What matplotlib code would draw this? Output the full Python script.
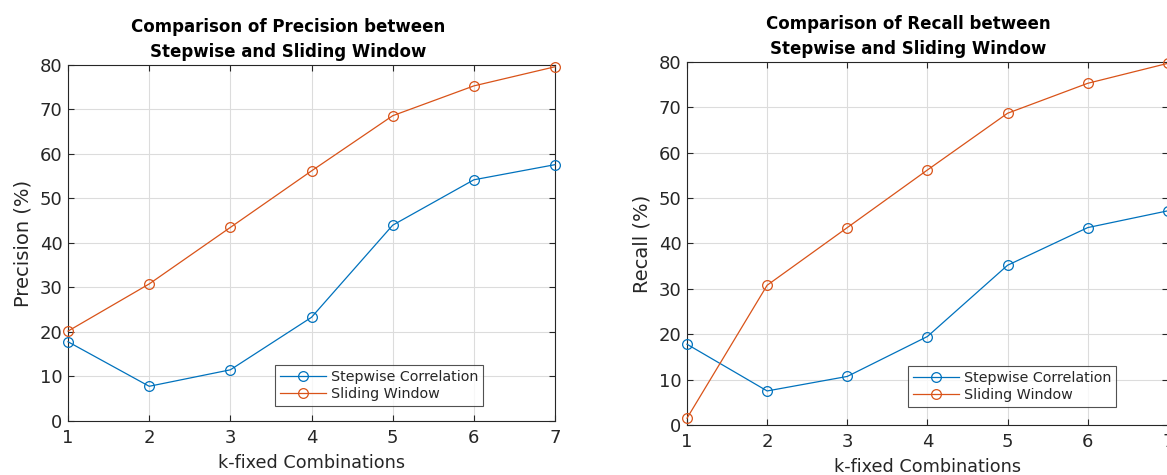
import matplotlib
matplotlib.use("Agg")
import matplotlib.pyplot as plt

k_values = [1, 2, 3, 4, 5, 6, 7]

precision_stepwise = [17.8, 7.8, 11.5, 23.3, 44.0, 54.2, 57.6]
precision_sliding = [20.2, 30.8, 43.5, 56.2, 68.6, 75.3, 79.6]

recall_stepwise = [17.8, 7.5, 10.7, 19.5, 35.2, 43.5, 47.2]
recall_sliding = [1.5, 30.8, 43.5, 56.2, 68.7, 75.3, 79.7]

BLUE = "#0072BD"
ORANGE = "#D95319"
TEXT = "#262626"

plt.rcParams["font.family"] = "DejaVu Sans"


def draw_panel(ax, stepwise, sliding, metric, legend_anchor, title_x):
    ax.plot(k_values, stepwise, color=BLUE, marker="o", markersize=7,
            markerfacecolor="none", markeredgewidth=0.9, linewidth=0.9,
            label="Stepwise Correlation", clip_on=False, zorder=3)
    ax.plot(k_values, sliding, color=ORANGE, marker="o", markersize=7,
            markerfacecolor="none", markeredgewidth=0.9, linewidth=0.9,
            label="Sliding Window", clip_on=False, zorder=3)

    ax.set_xlim(1, 7)
    ax.set_ylim(0, 80)
    ax.set_xticks(k_values)
    ax.set_yticks(range(0, 81, 10))
    ax.grid(True, color="#dcdcdc", linewidth=0.8)
    ax.set_axisbelow(True)
    ax.tick_params(direction="in", top=True, right=True, length=4,
                   labelsize=13, colors=TEXT, width=0.8)
    ax.tick_params(axis="x", pad=6)
    ax.tick_params(axis="y", pad=4)
    for spine in ax.spines.values():
        spine.set_color(TEXT)
        spine.set_linewidth(0.8)

    ax.set_xlabel("k-fixed Combinations", fontsize=12.7, color=TEXT, labelpad=5)
    ax.set_ylabel(f"{metric} (%)", fontsize=14, color=TEXT, labelpad=5)
    ax.set_title(f"Comparison of {metric} between\nStepwise and Sliding Window",
                 fontsize=12, fontweight="bold", pad=6, linespacing=1.5,
                 x=title_x)

    leg = ax.legend(loc="lower right", bbox_to_anchor=legend_anchor,
                    fontsize=10.3, frameon=True, fancybox=False,
                    edgecolor=TEXT, handlelength=3.2, borderpad=0.35,
                    labelspacing=0.2, handletextpad=0.3, borderaxespad=0)
    leg.get_frame().set_linewidth(0.8)
    for t in leg.get_texts():
        t.set_color(TEXT)


fig = plt.figure(figsize=(11.67, 4.75), dpi=100)
ax1 = fig.add_axes([0.0583, 0.1137, 0.4173, 0.7495])
ax2 = fig.add_axes([0.5887, 0.1053, 0.4120, 0.7642])

draw_panel(ax1, precision_stepwise, precision_sliding, "Precision", (0.852, 0.042), 0.452)
draw_panel(ax2, recall_stepwise, recall_sliding, "Recall", (0.892, 0.05), 0.46)

fig.savefig("out.png", dpi=100)
